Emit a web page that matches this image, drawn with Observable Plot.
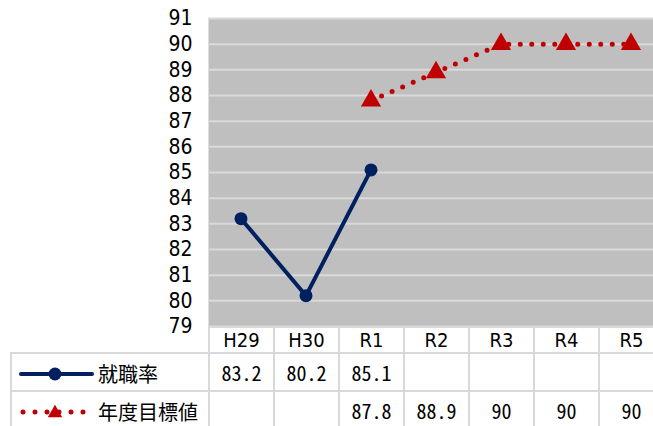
<!DOCTYPE html>
<html>
<head>
<meta charset="utf-8">
<script src="https://cdn.jsdelivr.net/npm/d3@7"></script>
<script src="https://cdn.jsdelivr.net/npm/@observablehq/plot@0.6"></script>
<style>
  html, body { margin: 0; padding: 0; background: #fff; overflow: hidden; }
  #wrap { position: relative; width: 653px; height: 426px; overflow: hidden; }
  #tbl { position: absolute; left: 10px; border-collapse: collapse; table-layout: fixed; }
  #tbl td { border: 2px solid #d9d9d9; padding: 0; text-align: center; color: #000;
            font-family: "Noto Sans Mono CJK JP", "Liberation Mono", monospace; font-size: 20px; white-space: nowrap; overflow: hidden; }
  #tbl tr.head td { font-family: "Liberation Sans Narrow", "DejaVu Sans Condensed", "Liberation Sans", sans-serif; font-size: 20px; }
  #tbl td.blank { border: none; }
  #tbl td.name { text-align: left; font-family: "Noto Sans CJK JP", sans-serif; font-size: 20px; }
  #tbl td.name svg { vertical-align: middle; }
  #tbl td.name span { vertical-align: middle; }
</style>
</head>
<body>
<div id="wrap"></div>
<script>
const categories = ["H29", "H30", "R1", "R2", "R3", "R4", "R5"];
const employmentRate = [83.2, 80.2, 85.1, null, null, null, null];
const targetRate = [null, null, 87.8, 88.9, 90, 90, 90];
const yTicks = [79, 80, 81, 82, 83, 84, 85, 86, 87, 88, 89, 90, 91];
const seriesNames = ["就職率", "年度目標値"];
const seriesColors = ["#002060", "#c00000"];

const empData = categories.map((c, i) => ({cat: c, v: employmentRate[i]})).filter(d => d.v != null);
const tgtData = categories.map((c, i) => ({cat: c, v: targetRate[i]})).filter(d => d.v != null);

const marginLeft = 208, step = 65;
const chart = Plot.plot({
  width: 653,
  height: 326,
  marginTop: 18,
  marginBottom: 0,
  marginLeft: marginLeft,
  marginRight: 0,
  style: {overflow: "visible", background: "transparent", fontFamily: "'Liberation Sans Narrow', 'DejaVu Sans Condensed', 'Liberation Sans', sans-serif", fontSize: "21px", color: "#000"},
  x: {type: "band", domain: categories, range: [marginLeft, marginLeft + categories.length * step], padding: 0, align: 0, axis: null},
  y: {domain: [79, 91], ticks: yTicks, tickSize: 0, tickPadding: 16, label: null, tickFormat: d => String(d)},
  marks: [
    Plot.frame({fill: "#bfbfbf", stroke: "none"}),
    Plot.ruleY(yTicks, {stroke: "#d9d9d9", strokeWidth: 2}),
    Plot.line(empData, {x: "cat", y: "v", stroke: seriesColors[0], strokeWidth: 4}),
    Plot.dot(empData, {x: "cat", y: "v", r: 6.5, fill: seriesColors[0], stroke: "none"}),
    Plot.line(tgtData, {x: "cat", y: "v", stroke: seriesColors[1], strokeWidth: 5, strokeDasharray: "0 11.5", strokeLinecap: "round"}),
    Plot.dot(tgtData, {x: "cat", y: "v", symbol: "triangle", r: 7.5, fill: seriesColors[1], stroke: "none"})
  ]
});
const wrap = document.getElementById("wrap");
wrap.appendChild(chart);

// data table below the plot, columns aligned with the x scale
const xs = chart.scale("x");
const bw = xs.bandwidth || step;
const left0 = (xs.range ? xs.range[0] : marginLeft);
const firstW = left0 - 10;
const table = document.createElement("table");
table.id = "tbl";
table.style.top = "326px";
const colgroup = document.createElement("colgroup");
[firstW, ...categories.map(() => bw)].forEach(w => {
  const col = document.createElement("col"); col.style.width = w + "px"; colgroup.appendChild(col);
});
table.appendChild(colgroup);
table.style.width = (firstW + bw * categories.length) + "px";

const head = document.createElement("tr"); head.className = "head"; head.style.height = "26px";
const blank = document.createElement("td"); blank.className = "blank"; head.appendChild(blank);
categories.forEach(c => { const td = document.createElement("td"); td.textContent = c; head.appendChild(td); });
table.appendChild(head);

function icon(kind) {
  const ns = "http://www.w3.org/2000/svg";
  const s = document.createElementNS(ns, "svg");
  s.setAttribute("width", 86); s.setAttribute("height", 20);
  const l = document.createElementNS(ns, "line");
  l.setAttribute("x1", kind === 0 ? 9 : 11); l.setAttribute("x2", kind === 0 ? 80 : 76);
  l.setAttribute("y1", 10); l.setAttribute("y2", 10);
  l.setAttribute("stroke", seriesColors[kind]);
  if (kind === 0) { l.setAttribute("stroke-width", 4); l.setAttribute("stroke-linecap", "round"); }
  else { l.setAttribute("stroke-width", 5); l.setAttribute("stroke-dasharray", "0 12"); l.setAttribute("stroke-linecap", "round"); }
  s.appendChild(l);
  if (kind === 0) {
    const c = document.createElementNS(ns, "circle");
    c.setAttribute("cx", 43); c.setAttribute("cy", 10); c.setAttribute("r", 6.5); c.setAttribute("fill", seriesColors[0]);
    s.appendChild(c);
  } else {
    const p = document.createElementNS(ns, "path");
    p.setAttribute("d", d3.symbol(d3.symbolTriangle, 90)());
    p.setAttribute("transform", "translate(43,11)");
    p.setAttribute("fill", seriesColors[1]);
    s.appendChild(p);
  }
  return s;
}

[employmentRate, targetRate].forEach((vals, k) => {
  const tr = document.createElement("tr"); tr.style.height = "38px";
  const nm = document.createElement("td"); nm.className = "name";
  nm.appendChild(icon(k));
  const sp = document.createElement("span"); sp.textContent = seriesNames[k]; nm.appendChild(sp);
  tr.appendChild(nm);
  vals.forEach(v => { const td = document.createElement("td"); td.textContent = v == null ? "" : String(v); tr.appendChild(td); });
  table.appendChild(tr);
});
wrap.appendChild(table);
</script>
</body>
</html>
